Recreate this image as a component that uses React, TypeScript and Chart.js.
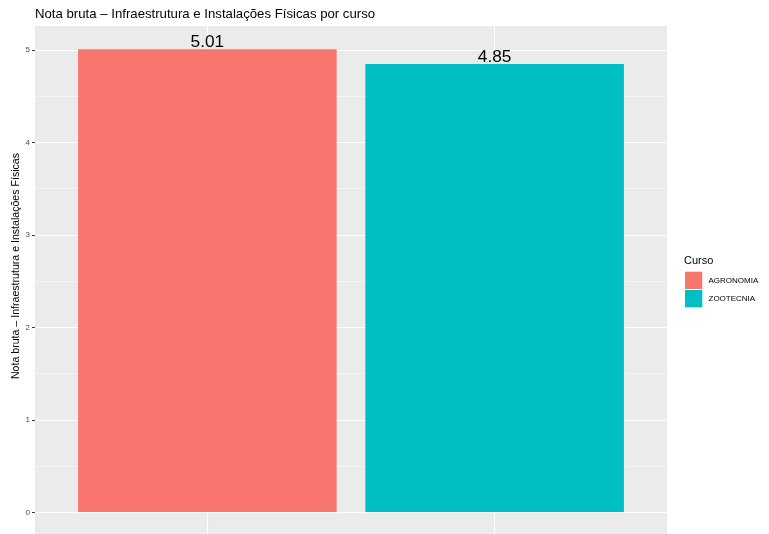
import React, { useEffect, useRef } from "react";
import { Chart, registerables } from "chart.js";

Chart.register(...registerables);

const chartTitle = "Nota bruta – Infraestrutura e Instalações Físicas por curso";
const yTitle = "Nota bruta – Infraestrutura e Instalações Físicas";
const legendTitle = "Curso";
const courses = ["AGRONOMIA", "ZOOTECNIA"];
const positions = [1, 2];
const notas = [5.01, 4.85];
const valueLabels = ["5.01", "4.85"];
const colors = ["#F8766D", "#00BFC4"];
const yTickValues = [0, 0.5, 1, 1.5, 2, 2.5, 3, 3.5, 4, 4.5, 5];

const FONT = '"Liberation Sans", Arial, Helvetica, sans-serif';

const ggPlugin = {
  id: "ggDecor",
  beforeDraw(chart: any) {
    const { ctx, chartArea } = chart;
    ctx.save();
    ctx.fillStyle = "#EBEBEB";
    ctx.fillRect(chartArea.left, chartArea.top, chartArea.right - chartArea.left, chartArea.bottom - chartArea.top);
    ctx.restore();
  },
  afterDraw(chart: any) {
    const { ctx, chartArea } = chart;
    ctx.save();
    // main title
    ctx.fillStyle = "#000000";
    ctx.font = `13.2px ${FONT}`;
    ctx.textAlign = "left";
    ctx.textBaseline = "alphabetic";
    ctx.fillText(chartTitle, chartArea.left, 18);

    // y axis title
    ctx.save();
    ctx.translate(16, 266);
    ctx.rotate(-Math.PI / 2);
    ctx.font = `10.6px ${FONT}`;
    ctx.textAlign = "center";
    ctx.textBaseline = "middle";
    ctx.fillText(yTitle, 0, 0);
    ctx.restore();

    // value labels
    const meta = chart.getDatasetMeta(0);
    ctx.font = `17.3px ${FONT}`;
    ctx.textAlign = "center";
    ctx.textBaseline = "alphabetic";
    ctx.fillStyle = "#000000";
    meta.data.forEach((bar: any, i: number) => {
      ctx.fillText(valueLabels[i], bar.x, bar.y - 2.3);
    });

    // legend
    const lx = chartArea.right + 17;
    ctx.font = `11px ${FONT}`;
    ctx.textAlign = "left";
    ctx.fillText(legendTitle, lx, 263.5);
    const keySize = 17.3;
    const top0 = 271.7;
    courses.forEach((c, i) => {
      const y = top0 + i * (keySize + 1);
      ctx.fillStyle = colors[i];
      ctx.fillRect(lx + 1, y, keySize, keySize);
      ctx.fillStyle = "#000000";
      ctx.font = `8px ${FONT}`;
      ctx.textBaseline = "middle";
      ctx.fillText(c, lx + 24.5, y + keySize / 2);
      ctx.textBaseline = "alphabetic";
    });
    ctx.restore();
  },
};

export default function App() {
  const ref = useRef<HTMLCanvasElement | null>(null);
  useEffect(() => {
    if (!ref.current) return;
    const chart = new Chart(ref.current, {
      type: "bar",
      data: {
        datasets: [
          {
            label: "Nota",
            data: positions.map((x, i) => ({ x, y: notas[i] })),
            backgroundColor: colors,
            borderWidth: 0,
            barPercentage: 0.9,
            categoryPercentage: 1,
          },
        ],
      },
      options: {
        responsive: false,
        animation: false,
        devicePixelRatio: 1,
        layout: { padding: { left: 0, top: 26, right: 102, bottom: 0 } },
        plugins: { legend: { display: false }, tooltip: { enabled: false }, title: { display: false } },
        scales: {
          x: {
            type: "linear",
            min: 0.4,
            max: 2.6,
            offset: false,
            afterBuildTicks: (scale: any) => {
              scale.ticks = positions.map((v) => ({ value: v }));
            },
            afterFit: (scale: any) => {
              scale.height = 0;
              scale.paddingLeft = 0;
              scale.paddingRight = 0;
            },
            ticks: { display: false },
            border: { display: false },
            grid: { color: "#FFFFFF", lineWidth: 1.07, drawTicks: false, offset: false },
          },
          y: {
            type: "linear",
            min: -0.232,
            max: 5.2605,
            afterBuildTicks: (scale: any) => {
              scale.ticks = yTickValues.map((v) => ({ value: v }));
            },
            afterFit: (scale: any) => {
              scale.width = 35;
              scale.paddingTop = 0;
              scale.paddingBottom = 0;
            },
            border: { display: false },
            grid: {
              color: "#FFFFFF",
              lineWidth: (c: any) => (Number.isInteger(c.tick?.value) ? 1.07 : 0.53),
              tickColor: (c: any) => (Number.isInteger(c.tick?.value) ? "#333333" : "rgba(0,0,0,0)"),
              tickLength: 3,
              tickWidth: 1,
            },
            ticks: {
              padding: 2,
              color: "#4D4D4D",
              font: { size: 8, family: FONT },
              autoSkip: false,
              callback: (v: any) => (Number.isInteger(v) ? String(v) : ""),
            },
          },
        },
      },
      plugins: [ggPlugin],
    } as any);
    return () => chart.destroy();
  }, []);
  return (
    <div style={{ position: "fixed", left: 0, top: 0, width: 769, height: 534 }}>
      <canvas ref={ref} width={769} height={534} />
    </div>
  );
}
